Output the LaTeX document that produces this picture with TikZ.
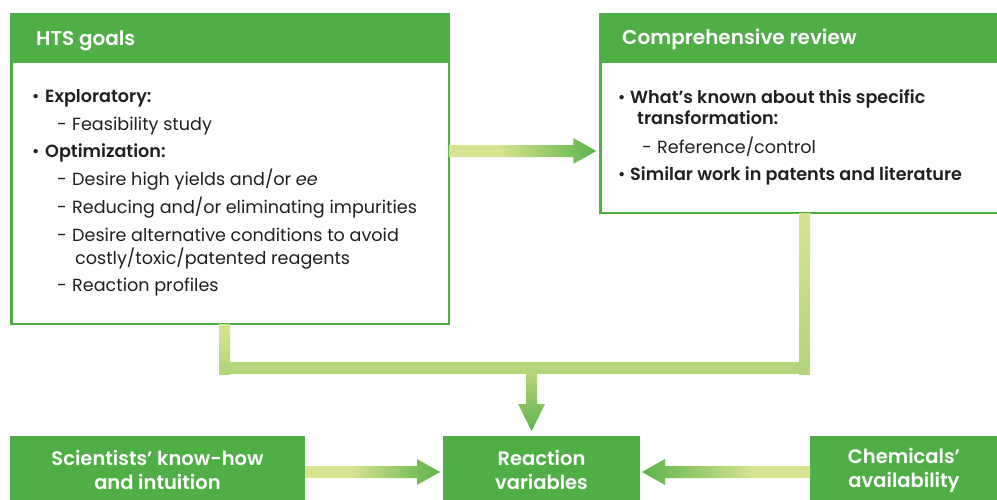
\documentclass[tikz,border=0pt]{standalone}
\usepackage{fontspec}
\setmainfont{Poppins}[BoldFont={Poppins SemiBold}]
\usetikzlibrary{calc}
\definecolor{gboxc}{HTML}{50AE47}
\definecolor{lightg}{HTML}{D6E491}
\definecolor{midg}{HTML}{B4D67B}
\definecolor{darkg}{HTML}{5CB34B}
\definecolor{txt}{HTML}{231F20}
\pgfdeclarehorizontalshading{gradR}{100bp}{color(0bp)=(lightg); color(25bp)=(lightg); color(42bp)=(lightg); color(75bp)=(darkg); color(100bp)=(darkg)}
\newcommand\rarrow[3]{%
  \shade[#3] let \p1=#1, \p2=#2 in (\x1,\y2+6pt) -- (\x2-23pt,\y2+6pt) -- (\x2-23pt,\y2+13pt) -- (\x2,\y2) -- (\x2-23pt,\y2-13pt) -- (\x2-23pt,\y2-6pt) -- (\x1,\y2-6pt) -- cycle;}
\newcommand\larrow[3]{%
  \shade[#3] let \p1=#1, \p2=#2 in (\x1,\y2+6pt) -- (\x2+23pt,\y2+6pt) -- (\x2+23pt,\y2+13pt) -- (\x2,\y2) -- (\x2+23pt,\y2-13pt) -- (\x2+23pt,\y2-6pt) -- (\x1,\y2-6pt) -- cycle;}
\begin{document}
\begin{tikzpicture}[x=1pt,y=-1pt,
  bodybox/.style={draw=gboxc, line width=2.5pt, fill=white, rectangle, inner sep=0, outer sep=0},
  headbox/.style={fill=gboxc, rectangle, inner sep=0, outer sep=0, anchor=north west},
  titletext/.style={font=\fontsize{20}{22}\selectfont\bfseries, text=white, anchor=base west, inner sep=0},
  bodytxt/.style={font=\fontsize{17.6}{20}\selectfont, text=txt, anchor=base west, inner sep=0},
  greenbox/.style={fill=gboxc, rectangle, inner sep=0, outer sep=0, text=white, align=center,
     font=\fontsize{19.5}{24}\selectfont\bfseries},
]
\useasboundingbox (0,0) rectangle (997,499);
\clip (0,0) rectangle (997,499);
\fill[white] (0,0) rectangle (997,499);

% HTS goals box
\node[bodybox, minimum width=437.5pt, minimum height=309.5pt] (hts) at (230,169) {};
\node[headbox, minimum width=440pt, minimum height=50pt] (htsh) at (10,13) {};
\node[titletext] (htst) at (36,45) {HTS goals};
\node[bodytxt] (h1) at (32,102) {\makebox[13pt][l]{•}\textbf{Exploratory:}};
\node[bodytxt] (h2) at (57,130) {\makebox[15pt][l]{-}Feasibility study};
\node[bodytxt] (h3) at (32,157) {\makebox[13pt][l]{•}\textbf{Optimization:}};
\node[bodytxt] (h4) at (57,185) {\makebox[15pt][l]{-}Desire high yields and/or \textit{ee}};
\node[bodytxt] (h5) at (57,213) {\makebox[15pt][l]{-}Reducing and/or eliminating impurities};
\node[bodytxt] (h6) at (57,241) {\makebox[15pt][l]{-}Desire alternative conditions to avoid};
\node[bodytxt] (h7) at (75,264) {costly/toxic/patented reagents};
\node[bodytxt] (h8) at (57,291) {\makebox[15pt][l]{-}Reaction profiles};

% Comprehensive review box
\node[bodybox, minimum width=420pt, minimum height=198.5pt] (rev) at (810.25,113.5) {};
\node[headbox, minimum width=420pt, minimum height=50pt] (revh) at (599,13) {};
\node[titletext] (revt) at (622,44) {Comprehensive review};
\node[bodytxt] (r1) at (618,103) {\makebox[12pt][l]{•}\textbf{What’s known about this specific}};
\node[bodytxt] (r2) at (637,124) {\textbf{transformation:}};
\node[bodytxt] (r3) at (642,153) {\makebox[15pt][l]{-}Reference/control};
\node[bodytxt] (r4) at (618,180) {\makebox[12pt][l]{•}\textbf{Similar work in patents and literature}};

% bottom boxes
\node[greenbox, minimum width=295pt, minimum height=68pt] (sci) at (157.5,470) {Scientists’ know-how\\and intuition};
\node[greenbox, minimum width=197pt, minimum height=68pt] (rv) at (541.5,470) {Reaction\\variables};
\node[greenbox, minimum width=188pt, minimum height=68pt] (chem) at (904,470) {Chemicals’\\availability};

% arrow HTS -> review
\coordinate (ya) at (0,151);
\rarrow{(hts.east)}{($(rev.west|-ya)+(-4,0)$)}{shading=gradR}

% bracket to reaction variables
\coordinate (jL) at (224.5,368);
\coordinate (jR) at (804.5,368);
\coordinate (jM) at (531.5,368);
\shade[top color=lightg, bottom color=midg] let \p1=(hts.south -| jL), \p2=(jL) in (\x1-5.5pt,\y1-1pt) rectangle (\x2+5.5pt,\y2-6pt);
\shade[top color=lightg, middle color=lightg, bottom color=midg] let \p1=(rev.south -| jR), \p2=(jR) in (\x1-5.5pt,\y1-1pt) rectangle (\x2+5.5pt,\y2-6pt);
\fill[midg] let \p1=(jL), \p2=(jR) in (\x1-5.5pt,\y1+6pt) rectangle (\x2+5.5pt,\y1-6pt);
\shade[top color=midg, bottom color=darkg] let \p1=(jM), \p2=($(rv.north -| jM)+(0,-5)$) in
  (\x1-5.5pt,\y1-6pt) -- (\x1-5.5pt,\y2+27pt) -- (\x1-13.5pt,\y2+27pt) -- (\x2,\y2) -- (\x1+13.5pt,\y2+27pt) -- (\x1+5.5pt,\y2+27pt) -- (\x1+5.5pt,\y1-6pt) -- cycle;

% bottom arrows
\rarrow{(sci.east)}{($(rv.west)+(-3,2)$)}{shading=gradR}
\larrow{(chem.west)}{($(rv.east)+(2,2)$)}{shading=gradR, shading angle=180}
\end{tikzpicture}
\end{document}
